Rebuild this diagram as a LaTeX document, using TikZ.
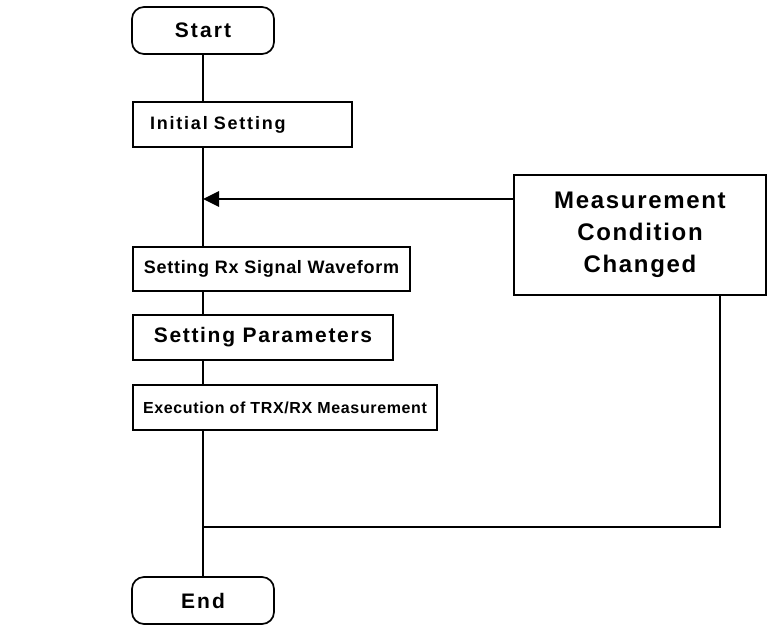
\documentclass[tikz,border=0pt]{standalone}
\usepackage{fontspec}
\setmainfont{Liberation Sans}
\usetikzlibrary{arrows.meta}
% font sets used by the boxes, differing in letter spacing
\newfontfamily\boxfontA{Liberation Sans}[LetterSpace=10]
\newfontfamily\boxfontB{Liberation Sans}[LetterSpace=4]
\newfontfamily\boxfontC{Liberation Sans}[LetterSpace=8]
\newfontfamily\boxfontD{Liberation Sans}[LetterSpace=7]
\tikzset{
  box/.style={draw, line width=1.7pt, rectangle, inner sep=0pt, align=center},
  term/.style={box, rounded corners=12pt, minimum width=142pt, minimum height=47pt, font=\boxfontA\bfseries\fontsize{21}{24}\selectfont},
  link/.style={line width=1.7pt},
  feed/.style={line width=2.8pt, -{Triangle[length=16pt,width=15pt]}}
}
\begin{document}
\begin{tikzpicture}[x=1pt,y=-1pt]
  \useasboundingbox (0,0) rectangle (768,625);
  \node[term] (start) at (203,30.5) {Start};
  \node[box, inner xsep=17pt, text width=185pt, align=left, minimum height=45pt,
        font=\boxfontA\bfseries\fontsize{18}{22}\selectfont] (init) at (242.5,124.5) {Initial Setting};
  \node[box, minimum width=277pt, minimum height=44pt,
        font=\boxfontB\bfseries\fontsize{18}{22}\selectfont] (rx) at (271.5,269) {Setting Rx Signal Waveform};
  \node[box, minimum width=260pt, minimum height=45pt,
        font=\boxfontC\bfseries\fontsize{21}{22}\selectfont] (param) at (263,337.5) {Setting Parameters};
  \node[box, minimum width=304pt, minimum height=45pt,
        font=\boxfontB\bfseries\fontsize{16}{22}\selectfont] (exec) at (285,407.5) {Execution of TRX/RX Measurement};
  \node[term] (end) at (203,600.5) {End};
  \node[box, minimum width=252pt, minimum height=120pt,
        font=\boxfontD\bfseries\fontsize{24}{32}\selectfont] (cond) at (640,235) {Measurement\\Condition\\Changed};

  \coordinate (join) at (start.south |- 0,199);
  \coordinate (merge) at (start.south |- 0,527);
  \coordinate (turn) at (cond.south -| 720,0);

  \draw[link] (start.south) -- (start.south |- init.north);
  \draw[link] (start.south |- init.south) -- (start.south |- rx.north);
  \draw[link] (start.south |- rx.south) -- (start.south |- param.north);
  \draw[link] (start.south |- param.south) -- (start.south |- exec.north);
  \draw[link] (start.south |- exec.south) -- (end.north);
  \draw[feed] (cond.west |- join) -- (join);
  \draw[link] (turn) -- (turn |- merge) -- (merge);
\end{tikzpicture}
\end{document}
